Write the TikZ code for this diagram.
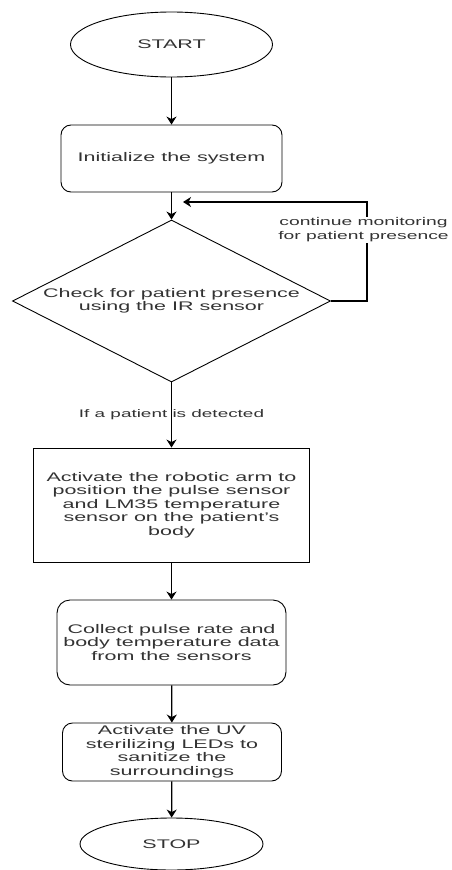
\documentclass[tikz,border=0pt]{standalone}
\usepackage{fontspec}
\setmainfont[FakeStretch=1.72]{Liberation Sans}
\usetikzlibrary{shapes.geometric,arrows.meta}
\begin{document}
\begin{tikzpicture}[x=1pt,y=-1pt,
  every node/.style={inner sep=0pt,font=\fontsize{12.5}{13.5}\selectfont,text=black!80,align=center},
  term/.style={draw=black,ellipse,line width=0.9pt},
  procbox/.style={draw=black,rectangle,line width=0.9pt},
  rbox/.style={procbox,rounded corners=10pt},
  decision/.style={draw=black,diamond,line width=0.9pt},
  flow/.style={line width=1.3pt,-{Stealth[length=8pt,width=10pt,inset=2.5pt]}},
  lbl/.style={font=\fontsize{11}{12}\selectfont},
  looplbl/.style={fill=white,inner sep=1pt,font=\fontsize{11.2}{13.5}\selectfont},
]
\useasboundingbox (0,0) rectangle (451,870);
\node[term, minimum width=202pt, minimum height=65pt] (start) at (171.5,44.5) {START};
\node[rbox, minimum width=221pt, minimum height=67pt] (init) at (171.5,158.5) {Initialize the system};
\node[decision, minimum width=318pt, minimum height=162pt] (chk) at (171.5,301) {};
\node (chktxt) at (chk.center) {Check for patient presence\\using the IR sensor};
\node[procbox, minimum width=276pt, minimum height=114pt] (arm) at (171.5,505) {Activate the robotic arm to\\position the pulse sensor\\and LM35 temperature\\sensor on the patient's\\body};
\node[rbox, rounded corners=13pt, minimum width=229pt, minimum height=85pt] (col) at (171.5,642.5) {Collect pulse rate and\\body temperature data\\from the sensors};
\node[rbox, minimum width=219pt, minimum height=58pt] (uv) at (172,752) {Activate the UV\\sterilizing LEDs to\\sanitize the\\surroundings};
\node[term, minimum width=183pt, minimum height=52pt] (stop) at (171.5,844) {STOP};
\coordinate (back) at (183,202);
\draw[flow] (start) -- (init);
\draw[flow] (init) -- (chk);
\draw[flow] (chk) -- node[lbl] (det) {If a patient is detected} (arm);
\draw[flow] (arm) -- (col);
\draw[flow] (col) -- (uv);
\draw[flow] (uv) -- (stop);
\draw[flow] (chk.east) -- (367,301) -- node[looplbl, pos=0.72, xshift=-3.5pt] (cont) {continue monitoring\\for patient presence} (367,202) -- (back);
\end{tikzpicture}
\end{document}
